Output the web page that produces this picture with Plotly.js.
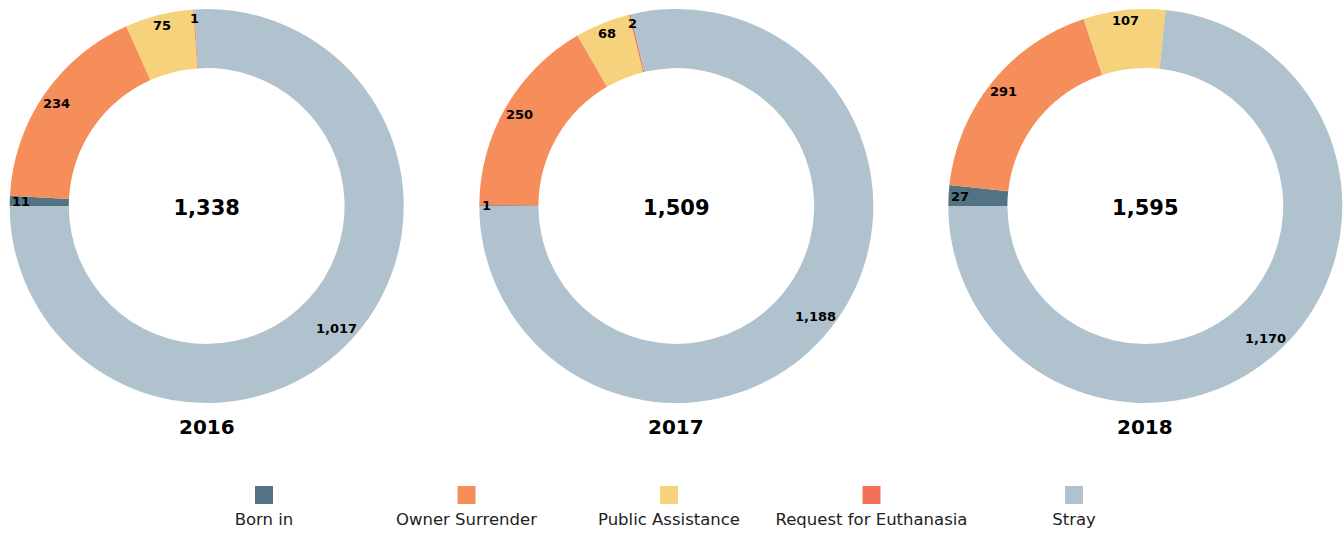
<!DOCTYPE html>
<html>
<head>
<meta charset="utf-8">
<script src="https://cdn.plot.ly/plotly-3.0.1.min.js"></script>
<style>html,body{margin:0;padding:0;background:#fff;}#chart{width:1343px;height:535px;}</style>
</head>
<body>
<div id="chart"></div>
<script>
const categories = ['Born in', 'Owner Surrender', 'Public Assistance', 'Request for Euthanasia', 'Stray'];
const years = ['2016', '2017', '2018'];
const values2016 = [11, 234, 75, 1, 1017];
const values2017 = [1, 250, 68, 2, 1188];
const values2018 = [27, 291, 107, 0, 1170];
const colors = ['#537283', '#f68e5c', '#f5d27b', '#f37157', '#afc2ce'];

const FONT = 'DejaVu Sans, Verdana, sans-serif';
const W = 1343, H = 535;
const seriesByYear = [values2016, values2017, values2018];
const centersPx = [206.7, 676.3, 1145.3];
const centerYPx = 206, radiusPx = 197, holeFrac = 0.70;
const startAngle = 270;            // first slice starts at 9 o'clock, going clockwise
const labelOuterPx = 193;          // labels tucked just inside the outer edge
const labelFontSize = 13;

const fmt = v => v.toLocaleString('en-US');

// text measurement to keep each value label inside the ring
const ctx = document.createElement('canvas').getContext('2d');
ctx.font = 'bold ' + labelFontSize + 'px ' + FONT;
const textW = s => ctx.measureText(s).width;

const traces = [];
const annotations = [];

seriesByYear.forEach((vals, i) => {
  const cxPx = centersPx[i];
  const cx = cxPx / W, cy = 1 - centerYPx / H;
  const hx = radiusPx / W, hy = radiusPx / H;
  const total = vals.reduce((a, b) => a + b, 0);
  traces.push({
    type: 'pie',
    labels: categories,
    values: vals,
    textinfo: 'none',
    hole: holeFrac,
    sort: false,
    direction: 'clockwise',
    rotation: startAngle,
    marker: {colors: colors, line: {width: 0}},
    domain: {x: [cx - hx, cx + hx], y: [cy - hy, cy + hy]},
    title: {text: '<b>' + fmt(total) + '</b>', position: 'middle center',
            font: {family: FONT, size: 21, color: '#000'}},
    showlegend: false,
    hoverinfo: 'none'
  });

  // value labels at each slice's mid-angle
  let cum = 0;
  vals.forEach(v => {
    const mid = startAngle + 360 * (cum + v / 2) / total;
    cum += v;
    if (v <= 0) return;
    const label = fmt(v);
    const t = mid * Math.PI / 180;
    const s = Math.sin(t), c = Math.cos(t);
    const ext = 0.75 * textW(label) / 2 * Math.abs(s) + 5 * Math.abs(c);
    const r = labelOuterPx - ext;
    const px = cxPx + r * s, py = centerYPx - r * c;
    annotations.push({
      xref: 'paper', yref: 'paper', x: px / W, y: 1 - py / H,
      xanchor: 'center', yanchor: 'middle', showarrow: false,
      text: '<b>' + label + '</b>', borderpad: 0,
      font: {family: FONT, size: labelFontSize, color: '#000'}
    });
  });

  annotations.push({
    xref: 'paper', yref: 'paper', x: cx, y: 1 - 427 / H,
    xanchor: 'center', yanchor: 'middle', showarrow: false,
    text: '<b>' + years[i] + '</b>',
    font: {family: FONT, size: 20, color: '#000'}
  });
});

// custom legend: swatches above labels
traces.push({
  type: 'scatter', mode: 'markers', x: categories, y: categories.map(() => 1),
  marker: {symbol: 'square', size: 18, color: colors},
  xaxis: 'x', yaxis: 'y', showlegend: false, hoverinfo: 'none', cliponaxis: false
});
traces.push({
  type: 'scatter', mode: 'text', x: categories, y: categories.map(() => 0),
  text: categories, textposition: 'middle center',
  textfont: {family: FONT, size: 16.5, color: '#222'},
  xaxis: 'x', yaxis: 'y', showlegend: false, hoverinfo: 'none', cliponaxis: false
});

const legStart = 264, legStep = 202.5;
const layout = {
  width: W, height: H,
  margin: {l: 0, r: 0, t: 0, b: 0},
  paper_bgcolor: '#fff', plot_bgcolor: 'rgba(0,0,0,0)',
  showlegend: false,
  xaxis: {type: 'category', range: [-0.5, categories.length - 0.5],
          domain: [(legStart - legStep / 2) / W, (legStart + legStep * (categories.length - 0.5)) / W],
          visible: false, fixedrange: true},
  yaxis: {range: [0, 1], domain: [14 / H, 40 / H], visible: false, fixedrange: true},
  annotations: annotations
};

Plotly.newPlot('chart', traces, layout, {displayModeBar: false, staticPlot: true});
</script>
</body>
</html>
